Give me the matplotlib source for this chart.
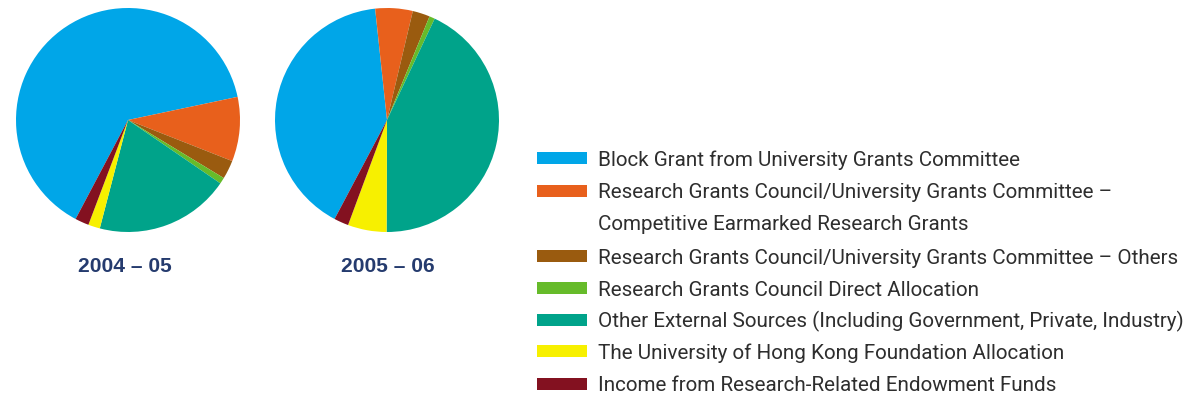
import matplotlib
matplotlib.use("Agg")
import matplotlib.pyplot as plt
from matplotlib.patches import Rectangle

W, H = 1184, 398

# funding sources (legend order)
sources = [
    "Block Grant from University Grants Committee",
    "Research Grants Council/University Grants Committee \u2013\nCompetitive Earmarked Research Grants",
    "Research Grants Council/University Grants Committee \u2013 Others",
    "Research Grants Council Direct Allocation",
    "Other External Sources (Including Government, Private, Industry)",
    "The University of Hong Kong Foundation Allocation",
    "Income from Research-Related Endowment Funds",
]
colors = ["#00A6E8", "#E8601C", "#9A5B0F", "#66BB2A", "#00A38A", "#F7F000", "#831120"]

years = ["2004 \u2013 05", "2005 \u2013 06"]
# shares in percent, estimated from the pie angles
share_0405 = [64.0, 9.3, 2.7, 0.9, 19.5, 1.7, 2.0]
share_0506 = [40.6, 5.4, 2.5, 0.8, 43.1, 5.6, 2.1]

fig = plt.figure(figsize=(W / 100, H / 100), dpi=100)

# overlay in pixel coordinates for titles and legend
over = fig.add_axes([0, 0, 1, 1])
over.set_xlim(0, W)
over.set_ylim(H, 0)
over.axis("off")


def drawPie(cx, cy, r, shares, title, tx):
    ax = fig.add_axes([(cx - r) / W, (H - cy - r) / H, 2 * r / W, 2 * r / H])
    ax.pie(shares, colors=colors, startangle=242.1, counterclock=False,
           radius=1.0, wedgeprops={"linewidth": 0})
    ax.set_xlim(-1, 1)
    ax.set_ylim(-1, 1)
    ax.set_aspect("auto")
    ax.axis("off")
    over.text(tx, 271.5, title, ha="center", va="baseline", fontsize=15.1,
              fontweight="bold", family=["Liberation Sans", "DejaVu Sans"],
              color="#253B6E")


drawPie(128, 120, 112, share_0405, years[0], 124.7)
drawPie(387, 120, 112, share_0506, years[1], 388)

# legend
row_y = [158.3, 191, 256, 288, 320, 351.3, 383.7]
for y, c, label in zip(row_y, colors, sources):
    over.add_patch(Rectangle((537, y - 6), 50, 12, facecolor=c, edgecolor="none"))
    for k, line in enumerate(label.split("\n")):
        over.text(597.5, y + 7.5 + 32 * k, line, ha="left", va="baseline",
                  fontsize=14.9, fontweight="normal",
                  family=["Roboto", "DejaVu Sans"], color="#2E2E2E")

fig.savefig("out.png", dpi=100)
